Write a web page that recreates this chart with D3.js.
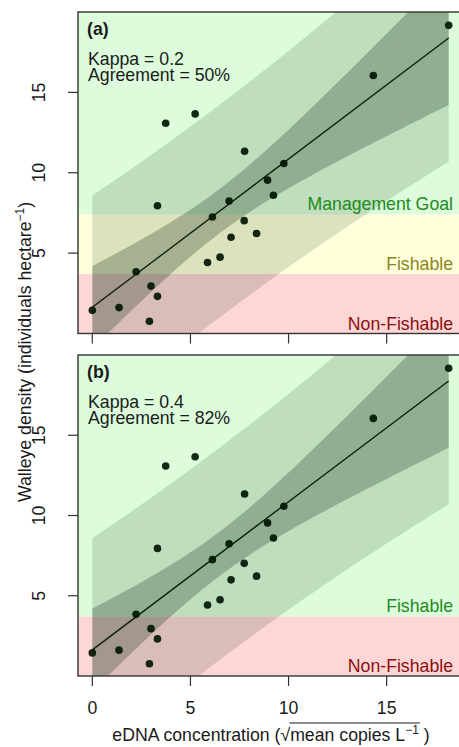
<!DOCTYPE html>
<html>
<head>
<meta charset="utf-8">
<script src="https://cdn.jsdelivr.net/npm/d3@7"></script>
<style>
  body { margin: 0; background: #fff; }
  text { font-family: "Liberation Sans", Arial, sans-serif; fill: #1a1a1a; }
</style>
</head>
<body>
<svg id="chart"></svg>
<script>
// Data: eDNA (sqrt copies/L) vs walleye density (per ha)
const edna = [0, 1.36, 2.23, 2.91, 2.99, 3.32, 3.32, 3.74, 5.24, 5.87, 6.12,
              6.51, 6.97, 7.07, 7.74, 7.76, 8.37, 8.93, 9.23, 9.76, 14.32, 18.16];
const density = [1.44, 1.61, 3.84, 0.76, 2.95, 2.31, 7.95, 13.08, 13.66, 4.42, 7.25,
                 4.75, 8.24, 5.99, 7.02, 11.34, 6.22, 9.54, 8.6, 10.58, 16.05, 19.17];

const panelLabels = ["(a)", "(b)"];
const kappas = ["0.2", "0.4"];
const agreements = ["50%", "82%"];

// zone breaks per panel (individuals / ha)
const zoneBreaksA = [0, 3.71, 7.41, 20];
const zoneNamesA = ["Non-Fishable", "Fishable", "Management Goal"];
const zoneBreaksB = [0, 3.71, 20];
const zoneNamesB = ["Non-Fishable", "Fishable"];

const xTicks = [0, 5, 10, 15];
const yTicks = [5, 10, 15];

// Dimensions
const Width = 459;
const Height = 747;
const FontSize = "17.7px";

const svg = d3.select("#chart")
  .attr("width", Width)
  .attr("height", Height);

const xScale = d3.scaleLinear().domain([-0.73, 18.89]).range([78, 463]);
const yRanges = [[333.5, 12], [676, 355]];

// Linear regression with confidence / prediction bands
const n = edna.length;
const mx = d3.mean(edna), my = d3.mean(density);
const sxx = d3.sum(edna, d => (d - mx) ** 2);
const sxy = d3.sum(edna, (d, i) => (d - mx) * (density[i] - my));
const slope = sxy / sxx;
const intercept = my - slope * mx;
const sse = d3.sum(edna, (d, i) => (density[i] - intercept - slope * d) ** 2);
const se = Math.sqrt(sse / (n - 2));
const tq = 2.086; // t(0.975, df = 20)

const xs = d3.range(0, 101).map(i => d3.min(edna) + (d3.max(edna) - d3.min(edna)) * i / 100);
const band = (extra) => xs.map(x => {
  const fit = intercept + slope * x;
  const h = tq * se * Math.sqrt(extra + 1 / n + (x - mx) ** 2 / sxx);
  return { x, lo: fit - h, hi: fit + h };
});
const predBand = band(1);
const confBand = band(0);

const zoneFill = { "Non-Fishable": "#fdd6d6", "Fishable": "#ffffdc", "Management Goal": "#dcfcdc" };
const zoneText = { "Non-Fishable": "#8b1010", "Fishable": "#87871a", "Management Goal": "#228b22" };

function drawPanel(p, breaks, names) {
  const yScale = d3.scaleLinear().domain([0, 20]).range(yRanges[p]);
  const [x0, x1] = xScale.range();
  const [yb, yt] = yScale.range();

  const g = svg.append("g");
  g.append("clipPath").attr("id", "clip" + p)
    .append("rect").attr("x", x0).attr("y", yt).attr("width", x1 - x0).attr("height", yb - yt);
  const plot = g.append("g").attr("clip-path", `url(#clip${p})`);

  // background zones
  names.forEach((name, i) => {
    let fill = zoneFill[name];
    if (p === 1 && name === "Fishable") fill = zoneFill["Management Goal"];
    plot.append("rect")
      .attr("x", x0).attr("width", x1 - x0)
      .attr("y", yScale(breaks[i + 1])).attr("height", yScale(breaks[i]) - yScale(breaks[i + 1]))
      .style("fill", fill);
  });

  // bands
  const area = d3.area().x(d => xScale(d.x)).y0(d => yScale(d.lo)).y1(d => yScale(d.hi));
  plot.append("path").attr("d", area(predBand)).style("fill", "#0a2a0a").style("opacity", 0.14);
  plot.append("path").attr("d", area(confBand)).style("fill", "#0a2a0a").style("opacity", 0.26);

  // zone labels
  names.forEach((name, i) => {
    let col = zoneText[name];
    if (p === 1 && name === "Fishable") col = zoneText["Management Goal"];
    plot.append("text")
      .attr("x", 453).attr("y", yScale(breaks[i]) - 4)
      .attr("text-anchor", "end")
      .style("font-size", FontSize)
      .style("fill", col)
      .text(name);
  });

  // fit line
  plot.append("line")
    .attr("x1", xScale(d3.min(edna))).attr("y1", yScale(intercept + slope * d3.min(edna)))
    .attr("x2", xScale(d3.max(edna))).attr("y2", yScale(intercept + slope * d3.max(edna)))
    .style("stroke", "#0a1a0a").style("stroke-width", 1.3);

  // points
  plot.selectAll("circle")
    .data(edna)
    .enter()
    .append("circle")
    .attr("cx", d => xScale(d))
    .attr("cy", (d, i) => yScale(density[i]))
    .attr("r", 3.8)
    .style("fill", "#031803")
    .style("opacity", 0.93);

  // frame
  g.append("rect")
    .attr("x", x0).attr("y", yt).attr("width", x1 - x0).attr("height", yb - yt)
    .style("fill", "none").style("stroke", "#333").style("stroke-width", 1.4);

  // y ticks
  yTicks.forEach(t => {
    g.append("line").attr("x1", x0 - 10).attr("x2", x0).attr("y1", yScale(t)).attr("y2", yScale(t))
      .style("stroke", "#333").style("stroke-width", 1.2);
    g.append("text")
      .attr("transform", `translate(45,${yScale(t)}) rotate(-90)`)
      .attr("text-anchor", "middle")
      .style("font-size", FontSize)
      .text(t);
  });

  // x ticks
  xTicks.forEach(t => {
    g.append("line").attr("x1", xScale(t)).attr("x2", xScale(t)).attr("y1", yb).attr("y2", yb + 10)
      .style("stroke", "#333").style("stroke-width", 1.2);
    if (p === 1) {
      g.append("text")
        .attr("x", xScale(t)).attr("y", yb + 38)
        .attr("text-anchor", "middle")
        .style("font-size", FontSize)
        .text(t);
    }
  });

  // panel annotations
  g.append("text").attr("x", 87).attr("y", yt + 22.5)
    .style("font-size", FontSize).style("font-weight", "bold").text(panelLabels[p]);
  g.append("text").attr("x", 88).attr("y", yt + 52.5)
    .style("font-size", FontSize).text("Kappa = " + kappas[p]);
  g.append("text").attr("x", 88).attr("y", yt + 69)
    .style("font-size", FontSize).text("Agreement = " + agreements[p]);
}

drawPanel(0, zoneBreaksA, zoneNamesA);
drawPanel(1, zoneBreaksB, zoneNamesB);

// y axis title
const yTitle = svg.append("text")
  .attr("transform", "translate(31,352) rotate(-90)")
  .attr("text-anchor", "middle")
  .style("font-size", FontSize);
yTitle.append("tspan").text("Walleye density (individuals hectare");
yTitle.append("tspan").attr("dy", -7).style("font-size", "12px").text("\u22121");
yTitle.append("tspan").attr("dy", 7).text(")");

// x axis title with square root sign
const xTitle = svg.append("text")
  .attr("x", 271).attr("y", 741)
  .attr("text-anchor", "middle")
  .style("font-size", FontSize);
xTitle.append("tspan").text("eDNA concentration (\u221A");
xTitle.append("tspan").text("mean copies L");
xTitle.append("tspan").attr("dy", -7).style("font-size", "12px").text("\u22121");
xTitle.append("tspan").attr("dy", 7).text(" )");

// overline for the radical
const titleNode = xTitle.node();
const chars = "eDNA concentration (\u221A".length;
const startPos = titleNode.getStartPositionOfChar(chars - 1);
const endPos = titleNode.getEndPositionOfChar(chars + "mean copies L".length + 1);
svg.append("line")
  .attr("x1", startPos.x + 9).attr("x2", endPos.x + 1)
  .attr("y1", 741 - 18).attr("y2", 741 - 18)
  .style("stroke", "#1a1a1a").style("stroke-width", 1.1);
</script>
</body>
</html>
